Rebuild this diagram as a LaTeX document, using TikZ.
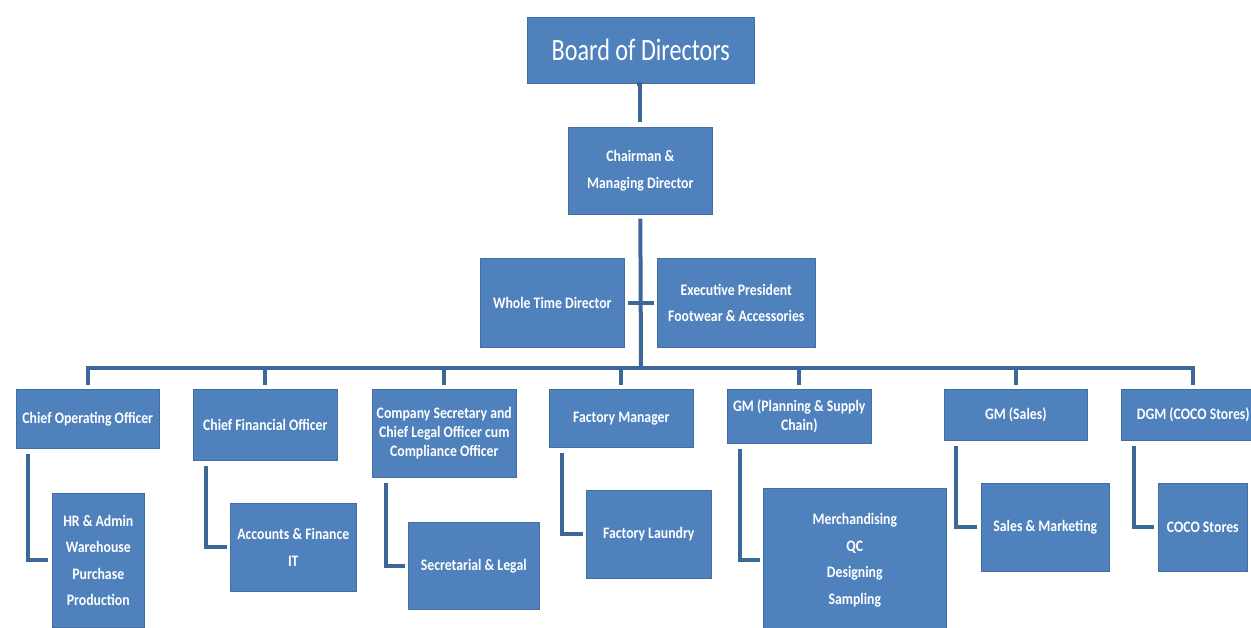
\documentclass[tikz,border=0pt]{standalone}
\usepackage{fontspec}
\newfontfamily\calfont[FakeStretch=0.78]{Carlito}
\newfontfamily\calbfont[FakeStretch=0.86]{Carlito}
\definecolor{boxblue}{HTML}{4F81BD}
\definecolor{lineblue}{HTML}{3C6898}
\begin{document}
\begin{tikzpicture}[x=1pt,y=-1pt,
  box/.style={fill=boxblue, draw=boxblue!85!black, line width=0.6pt, text=white, align=center,
    inner sep=0pt, anchor=north west,
    font=\calbfont\bfseries\fontsize{16}{26.5}\selectfont},
  tight/.style={font=\calbfont\bfseries\fontsize{16}{19}\selectfont},
  link/.style={draw=lineblue, line width=4pt}]
\useasboundingbox (0,0) rectangle (1251,628);
% top
\node[box, minimum width=227pt, minimum height=66pt, font=\calfont\fontsize{31}{36}\selectfont] (bod) at (527,17) {\raisebox{2pt}{Board of Directors}};
\node[box, minimum width=144pt, minimum height=87pt] (cmd) at (568,127) {Chairman \&\\Managing Director};
\node[box, minimum width=144pt, minimum height=89pt] (wtd) at (480,258) {Whole Time Director};
\node[box, minimum width=158pt, minimum height=89pt] (ep) at (657,258) {Executive President\\Footwear \& Accessories};
% level 2
\node[box, minimum width=143pt, minimum height=59pt] (coo) at (16,389) {Chief Operating Officer};
\node[box, minimum width=144pt, minimum height=71pt] (cfo) at (193,389) {Chief Financial Officer};
\node[box, tight, minimum width=144pt, minimum height=88pt] (cs) at (372,389) {Company Secretary and\\Chief Legal Officer cum\\Compliance Officer};
\node[box, minimum width=144pt, minimum height=58pt] (fm) at (549,389) {Factory Manager};
\node[box, tight, minimum width=144pt, minimum height=54pt] (gmp) at (727,389) {GM (Planning \& Supply\\Chain)};
\node[box, minimum width=143pt, minimum height=51pt] (gms) at (944,389) {GM (Sales)};
\node[box, minimum width=144pt, minimum height=51pt] (dgm) at (1121,389) {DGM (COCO Stores)};
% level 3
\node[box, minimum width=92pt, minimum height=134pt] (hr) at (52,493) {HR \& Admin\\Warehouse\\Purchase\\Production};
\node[box, minimum width=126pt, minimum height=88pt] (af) at (230,503) {Accounts \& Finance\\IT};
\node[box, minimum width=131pt, minimum height=87pt] (sl) at (408,522) {Secretarial \& Legal};
\node[box, minimum width=125pt, minimum height=88pt] (fl) at (586,490) {Factory Laundry};
\node[box, minimum width=183pt, minimum height=144pt] (mer) at (763,488) {Merchandising\\QC\\Designing\\Sampling};
\node[box, minimum width=128pt, minimum height=88pt] (sm) at (981,483) {Sales \& Marketing};
\node[box, minimum width=89pt, minimum height=88pt] (coc) at (1158,483) {COCO Stores};
% connectors
\coordinate (bus) at (641,368);
\draw[link, shorten <=4pt, shorten >=5pt] (bod.south) -- (cmd.south |- bod.south) -- (cmd.north);
\draw[link, shorten <=4pt] (cmd.south) -- (bus);
\draw[link, shorten <=3pt, shorten >=3pt] (wtd.east) -- (ep.west);
\draw[link, shorten <=4pt, shorten >=4pt] (coo.north) -- (coo.north |- bus) -- (dgm.north |- bus) -- (dgm.north);
\foreach \n in {cfo,cs,fm,gmp,gms}
  \draw[link, shorten >=4pt] (\n.north |- bus) -- (\n.north);
\draw[link, shorten >=4pt] ([xshift=12pt,yshift=-5pt]coo.south west) |- (hr.west);
\draw[link, shorten >=3pt] ([xshift=13pt,yshift=-5pt]cfo.south west) |- (af.west);
\draw[link, shorten >=3pt] ([xshift=14pt,yshift=-5pt]cs.south west) |- (sl.west);
\draw[link, shorten >=3pt] ([xshift=13pt,yshift=-5pt]fm.south west) |- (fl.west);
\draw[link, shorten >=3pt] ([xshift=13pt,yshift=-5pt]gmp.south west) |- (mer.west);
\draw[link, shorten >=4pt] ([xshift=12pt,yshift=-5pt]gms.south west) |- (sm.west);
\draw[link, shorten >=4pt] ([xshift=13pt,yshift=-5pt]dgm.south west) |- (coc.west);
\end{tikzpicture}
\end{document}
